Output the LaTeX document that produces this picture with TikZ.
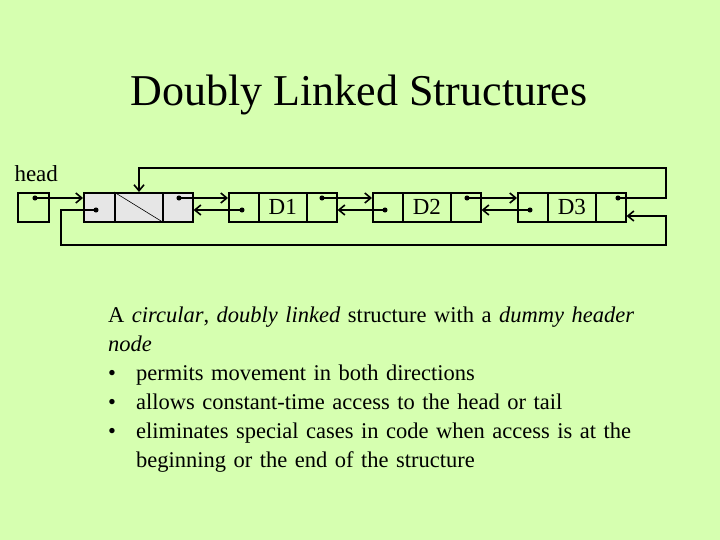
\documentclass[tikz,border=0pt]{standalone}
\usepackage{fontspec}
\setmainfont{Liberation Serif}
\usetikzlibrary{arrows.meta}
\definecolor{bg}{HTML}{D6FFB0}
\definecolor{hdr}{HTML}{E6E6E6}
\begin{document}
\begin{tikzpicture}[x=1pt,y=-1pt,
  cell/.style={draw,line width=1.6pt,inner sep=0,minimum height=29pt,anchor=north west},
  ptr/.style={line width=1.6pt,-{Straight Barb[length=6pt,width=10pt]}},
  dotc/.style={circle,fill,inner sep=1.8pt},
  lbl/.style={font=\fontsize{23}{23}\selectfont}]
\fill[bg] (0,0) rectangle (720,540);
\useasboundingbox (0,0) rectangle (720,540);
\node[font=\fontsize{44}{44}\selectfont] (title) at (359,95) {Doubly Linked Structures};
\node[lbl,anchor=west] (headlbl) at (11,174) {head};
% head box
\node[cell,minimum width=31pt] (hb) at (17,192) {};
% header node
\node[cell,fill=hdr,minimum width=31pt] (h1) at (83,192) {};
\node[cell,fill=hdr,minimum width=48pt] (h2) at (114,192) {};
\node[cell,fill=hdr,minimum width=30pt] (h3) at (162,192) {};
\draw[line width=0.6pt] (h2.north west) -- (h2.south east);
% data nodes
\foreach \n/\x/\t in {a/228/D1,b/372/D2,c/517/D3}{
  \node[cell,minimum width=30pt] (\n1) at (\x,192) {};
  \node[cell,minimum width=48pt,lbl] (\n2) at (\x+30,192) {\t};
  \node[cell,minimum width=30pt] (\n3) at (\x+78,192) {};
}
% dots
\node[dotc] (dhb) at (35,198) {};
\node[dotc] (dh1) at (96,210) {};
\node[dotc] (dh3) at (179,198) {};
\node[dotc] (da1) at (242,210) {};
\node[dotc] (da3) at (322,198) {};
\node[dotc] (db1) at (385,210) {};
\node[dotc] (db3) at (467,198) {};
\node[dotc] (dc1) at (530,210) {};
\node[dotc] (dc3) at (618,198) {};
% next pointers
\draw[ptr] (dhb.center) -- (h1.west |- dhb);
\draw[ptr] (dh3.center) -- (a1.west |- dh3);
\draw[ptr] (da3.center) -- (b1.west |- da3);
\draw[ptr] (db3.center) -- (c1.west |- db3);
% prev pointers
\draw[ptr] (da1.center) -- (h3.east |- da1);
\draw[ptr] (db1.center) -- (a3.east |- db1);
\draw[ptr] (dc1.center) -- (b3.east |- dc1);
% circular
\draw[ptr] (dc3.center) -- (666,198) -- (666,168) -- (139,168) -- (h2.north -| 139,0);
\draw[ptr] (dh1.center) -- (61,210) -- (61,245) -- (666,245) -- (666,216) -- (c3.east |- 0,216);
% text
\node[anchor=north west,align=left,text width=565pt,inner sep=0,font=\fontsize{22.5}{29}\selectfont] (body) at (108,307) {A \textit{circular}, \textit{doubly linked} structure with a \textit{dummy header node}\\
\makebox[28pt][l]{\textbullet}permits movement in both directions\\
\makebox[28pt][l]{\textbullet}allows constant-time access to the head or tail\\
\makebox[28pt][l]{\textbullet}eliminates special cases in code when access is at the\\
\hspace*{28pt}beginning or the end of the structure};
\end{tikzpicture}
\end{document}
